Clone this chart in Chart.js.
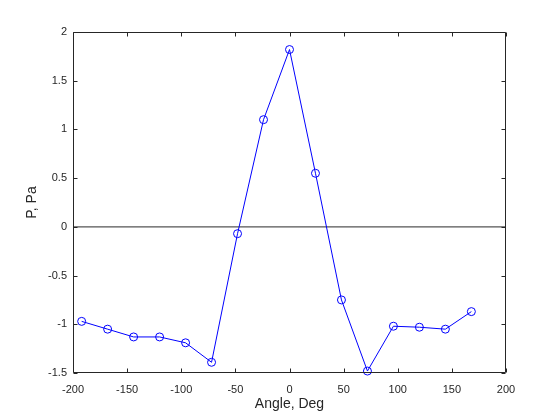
<!DOCTYPE html>
<html>
<head>
<meta charset="utf-8">
<script src="https://cdn.jsdelivr.net/npm/chart.js@4/dist/chart.umd.min.js"></script>
<style>
html,body{margin:0;padding:0;background:#fff;}
canvas{display:block;}
</style>
</head>
<body>
<canvas id="c" width="560" height="420"></canvas>
<script>
const angles = [-192,-168,-144,-120,-96,-72,-48,-24,0,24,48,72,96,120,144,168];
const pressure = [-0.97,-1.05,-1.13,-1.13,-1.19,-1.39,-0.07,1.10,1.82,0.55,-0.75,-1.48,-1.02,-1.03,-1.05,-0.87];
const zeroLineX = [-200,200];
const zeroLineY = [0,0];
const xTitle = 'Angle, Deg';
const yTitle = 'P, Pa';

const FONT = "'Liberation Sans', Arial, Helvetica, sans-serif";
const AX = '#262626';

const boxPlugin = {
  id: 'matlabBox',
  afterDraw(chart) {
    const {ctx, chartArea: a, scales} = chart;
    ctx.save();
    ctx.strokeStyle = AX;
    ctx.lineWidth = 1;
    const L = Math.round(a.left)+0.5, R = Math.round(a.right)-0.5;
    const T = Math.round(a.top)+0.5, B = Math.round(a.bottom)-0.5;
    ctx.beginPath();
    ctx.rect(L, T, R-L, B-T);
    const tl = 4;
    scales.x.ticks.forEach(t => {
      const px = Math.round(scales.x.getPixelForValue(t.value))+0.5;
      ctx.moveTo(px, B); ctx.lineTo(px, B-tl);
      ctx.moveTo(px, T); ctx.lineTo(px, T+tl);
    });
    scales.y.ticks.forEach(t => {
      const py = Math.round(scales.y.getPixelForValue(t.value))+0.5;
      ctx.moveTo(L, py); ctx.lineTo(L+tl, py);
      ctx.moveTo(R, py); ctx.lineTo(R-tl, py);
    });
    ctx.stroke();
    ctx.restore();
  }
};

const fmt = v => String(Number(v.toFixed(3)));

new Chart(document.getElementById('c'), {
  type: 'scatter',
  data: {
    datasets: [
      {
        data: zeroLineX.map((x,i)=>({x, y: zeroLineY[i]})),
        showLine: true,
        borderColor: '#555555',
        borderWidth: 1.4,
        pointRadius: 0,
        order: 2
      },
      {
        data: angles.map((x,i)=>({x, y: pressure[i]})),
        showLine: true,
        borderColor: '#0000ff',
        borderWidth: 1,
        tension: 0,
        pointStyle: 'circle',
        pointRadius: 4,
        pointBorderWidth: 1,
        pointBackgroundColor: 'rgba(0,0,0,0)',
        pointBorderColor: '#0000ff',
        clip: false,
        order: 1
      }
    ]
  },
  options: {
    responsive: false,
    animation: false,
    devicePixelRatio: 1,
    layout: { padding: { top: 32, right: 54, left: 0, bottom: 0 } },
    plugins: { legend: { display: false }, tooltip: { enabled: false } },
    scales: {
      x: {
        type: 'linear',
        min: -200, max: 200,
        afterFit(s) { s.height = 47; },
        grid: { display: false, drawTicks: false },
        border: { display: false },
        ticks: { stepSize: 50, padding: 10, color: AX, font: { family: FONT, size: 11 }, maxRotation: 0, callback: fmt },
        title: { display: true, text: xTitle, color: AX, font: { family: FONT, size: 14 }, padding: { top: 0, bottom: 7 } }
      },
      y: {
        type: 'linear',
        min: -1.5, max: 2,
        afterFit(s) { s.width = 73; },
        grid: { display: false, drawTicks: false },
        border: { display: false },
        ticks: { stepSize: 0.5, padding: 6, color: AX, font: { family: FONT, size: 11 }, callback: fmt },
        title: { display: true, text: yTitle, color: AX, font: { family: FONT, size: 14 }, padding: { top: 24, bottom: 0 } }
      }
    }
  },
  plugins: [boxPlugin]
});
</script>
</body>
</html>
